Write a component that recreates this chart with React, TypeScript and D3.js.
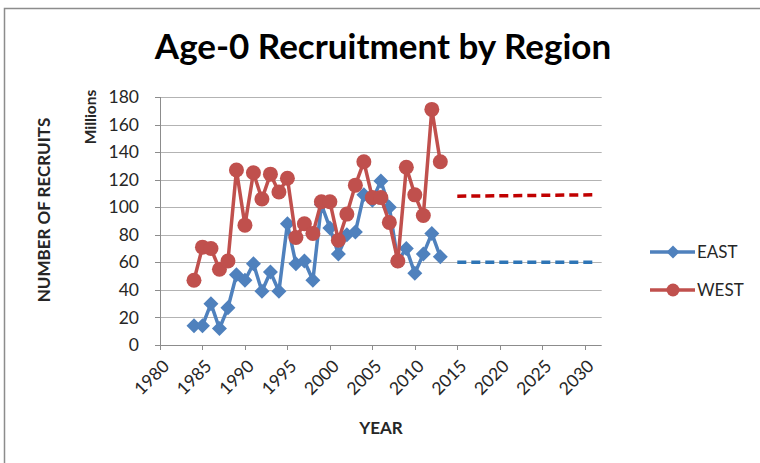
import React from "react";
import * as d3 from "d3";

const years = [1984,1985,1986,1987,1988,1989,1990,1991,1992,1993,1994,1995,1996,1997,1998,1999,2000,2001,2002,2003,2004,2005,2006,2007,2008,2009,2010,2011,2012,2013];
const eastValues = [14,14,30,12,27,51,47,59,39,53,39,88,59,61,47,102,85,66,80,82,109,105,119,100,61,70,52,66,81,64];
const westValues = [47,71,70,55,61,127,87,125,106,124,111,121,78,88,81,104,104,76,95,116,133,107,107,89,61,129,109,94,171,133];
const forecastYears = [2015, 2031];
const eastForecast = [60, 60];
const westForecast = [108, 109];
const xTicks = [1980,1985,1990,1995,2000,2005,2010,2015,2020,2025,2030];
const yTicks = [0,20,40,60,80,100,120,140,160,180];
const seriesNames = ["EAST", "WEST"];

const W = 760, H = 463;
const FONT = "Lato, 'Open Sans', sans-serif";
const EAST_C = "#4f81bd", WEST_C = "#c0504d";
const EAST_F = "#2e75b6", WEST_F = "#c00000";

export default function App() {
  const x = d3.scaleLinear().domain([1980, 2032]).range([160, 601.7]);
  const y = d3.scaleLinear().domain([0, 180]).range([345, 97]);
  const line = d3.line<[number, number]>().x(d => x(d[0])).y(d => y(d[1]));
  const east = years.map((yr, i) => [yr, eastValues[i]] as [number, number]);
  const west = years.map((yr, i) => [yr, westValues[i]] as [number, number]);
  const eastF = forecastYears.map((yr, i) => [yr, eastForecast[i]] as [number, number]);
  const westF = forecastYears.map((yr, i) => [yr, westForecast[i]] as [number, number]);
  const diamond = (cx: number, cy: number, r: number) => `M${cx},${cy - r}L${cx + r},${cy}L${cx},${cy + r}L${cx - r},${cy}Z`;

  return (
    <svg width={W} height={H} style={{ position: "absolute", left: 0, top: 0, background: "#fff" }} fontFamily={FONT}>
      <rect x={0} y={0} width={W} height={H} fill="#fff" />
      <path d={`M4.5,${H}V8.5H${W}`} fill="none" stroke="#8c8c8c" strokeWidth={1.5} />
      <text x={383} y={59} textAnchor="middle" fontSize={35} fontWeight="bold" fill="#000">Age-0 Recruitment by Region</text>

      {yTicks.map(t => (
        <g key={t}>
          {t > 0 && <line x1={x(1980)} x2={601.7} y1={Math.round(y(t)) + 0.5} y2={Math.round(y(t)) + 0.5} stroke="#b3b3b3" strokeWidth={1} />}
          <line x1={155} x2={160} y1={Math.round(y(t)) + 0.5} y2={Math.round(y(t)) + 0.5} stroke="#8c8c8c" />
          <text x={139} y={y(t)} dy="0.35em" textAnchor="end" fontSize={17.5} fill="#262626">{t}</text>
        </g>
      ))}
      <line x1={160.5} x2={160.5} y1={y(180)} y2={y(0)} stroke="#8c8c8c" />
      <line x1={160} x2={601.7} y1={Math.round(y(0)) + 0.5} y2={Math.round(y(0)) + 0.5} stroke="#8c8c8c" />
      {xTicks.map(t => (
        <g key={t}>
          <line x1={Math.round(x(t)) + 0.5} x2={Math.round(x(t)) + 0.5} y1={y(0)} y2={y(0) + 5} stroke="#8c8c8c" />
          <text transform={`translate(${x(t) + 6},${y(0) + 18}) rotate(-45)`} textAnchor="end" dy="0.35em" fontSize={17.5} fill="#262626">{t}</text>
        </g>
      ))}
      <text x={381} y={434} textAnchor="middle" fontSize={17} fontWeight="bold" fill="#262626">YEAR</text>
      <text transform="translate(50,210) rotate(-90)" textAnchor="middle" fontSize={17} fontWeight="bold" fill="#262626">NUMBER OF RECRUITS</text>
      <text transform="translate(96,117) rotate(-90)" textAnchor="middle" fontSize={15.5} fontWeight="bold" fill="#262626">Millions</text>

      <path d={line(westF) || ""} fill="none" stroke={WEST_F} strokeWidth={3.5} strokeDasharray="9,5" />
      <path d={line(eastF) || ""} fill="none" stroke={EAST_F} strokeWidth={3.5} strokeDasharray="9,5" />

      <path d={line(east) || ""} fill="none" stroke={EAST_C} strokeWidth={3.5} strokeLinejoin="round" />
      {east.map((d, i) => <path key={i} d={diamond(x(d[0]), y(d[1]), 7.5)} fill={EAST_C} />)}
      <path d={line(west) || ""} fill="none" stroke={WEST_C} strokeWidth={3.5} strokeLinejoin="round" />
      {west.map((d, i) => <circle key={i} cx={x(d[0])} cy={y(d[1])} r={7.5} fill={WEST_C} />)}

      {seriesNames.map((n, i) => {
        const ly = 252 + i * 38;
        const c = i === 0 ? EAST_C : WEST_C;
        return (
          <g key={n}>
            <line x1={650} x2={695} y1={ly} y2={ly} stroke={c} strokeWidth={3.5} />
            {i === 0 ? <path d={diamond(673, ly, 6.5)} fill={c} /> : <circle cx={673} cy={ly} r={6.5} fill={c} />}
            <text x={697} y={ly} dy="0.35em" fontSize={17} fill="#262626">{n}</text>
          </g>
        );
      })}
    </svg>
  );
}
